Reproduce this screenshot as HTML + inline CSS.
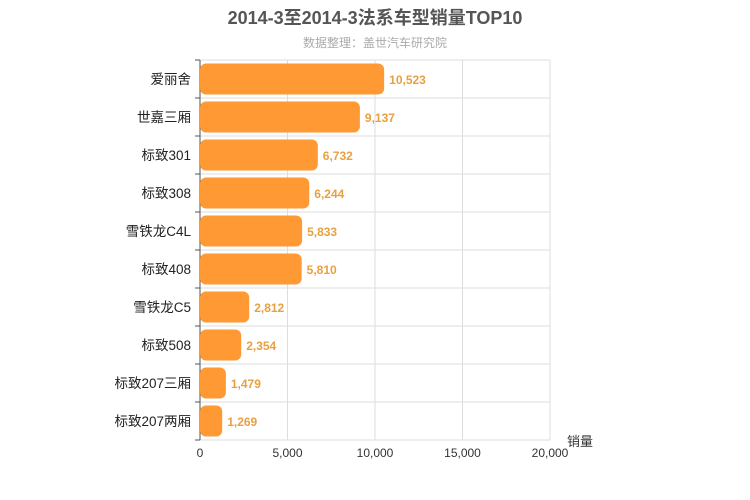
<!DOCTYPE html>
<html><head><meta charset="utf-8"><style>
body{margin:0;background:#fff;}
svg{display:block;font-family:"Liberation Sans","Noto Sans CJK SC",sans-serif;}
</style></head><body>
<svg id="c" width="750" height="500">
<text x="375" y="24" text-anchor="middle" font-size="18" font-weight="bold" fill="#555">2014-3至2014-3法系车型销量TOP10</text>
<text x="375" y="47" text-anchor="middle" font-size="12" fill="#aaa">数据整理：盖世汽车研究院</text>
<text x="580" y="446" text-anchor="middle" font-size="13" fill="#333">销量</text>
</svg>
<script>
const categories=["爱丽舍","世嘉三厢","标致301","标致308","雪铁龙C4L","标致408","雪铁龙C5","标致508","标致207三厢","标致207两厢"];
const values=[10523,9137,6732,6244,5833,5810,2812,2354,1479,1269];
const ticks=[0,5000,10000,15000,20000];
const tickLabels=["0","5,000","10,000","15,000","20,000"];
const svg=document.getElementById('c');const NS="http://www.w3.org/2000/svg";
const L=200,R=550,T=60,B=440,maxV=20000;
const x=v=>L+(v/maxV)*(R-L);
const band=(B-T)/categories.length;
const y=i=>T+i*band;
function mk(t,a,txt){const e=document.createElementNS(NS,t);for(const k in a)e.setAttribute(k,a[k]);if(txt!=null)e.textContent=txt;svg.appendChild(e);return e;}
const fmt=v=>v.toLocaleString('en-US');
ticks.forEach((t,i)=>{
 const g=mk('line',{x1:x(t),x2:x(t),y1:T,y2:B,stroke:'#ddd'});
 
 
 const lb=mk('text',{x:x(t),y:B+17,'text-anchor':'middle','font-size':12,fill:'#333'},tickLabels[i]);
 
 
});
for(let i=0;i<=categories.length;i++){
 const g=mk('line',{x1:L,x2:R,y1:y(i),y2:y(i),stroke:'#ddd'});
 
 
 const tk=mk('line',{x1:L-5,x2:L,y1:y(i),y2:y(i),stroke:'#555'});
 
 
}
const ax=mk('line',{x1:L,x2:L,y1:T,y2:B,stroke:'#555'});


categories.forEach((c,i)=>{
 const cy=y(i)+band/2;
 const lb=mk('text',{x:L-9,y:cy+5,'text-anchor':'end','font-size':13.5,fill:'#222'},c);
 
 
 const b=mk('rect',{x:L,y:y(i)+3.5,width:x(values[i])-L,height:band-7,rx:6,fill:'#FF9933'});
 
 
 const v=mk('text',{x:x(values[i])+5,y:cy+5,'font-size':12,'font-weight':'bold',fill:'#E8A040'},fmt(values[i]));
 
 
});
</script>
</body></html>
